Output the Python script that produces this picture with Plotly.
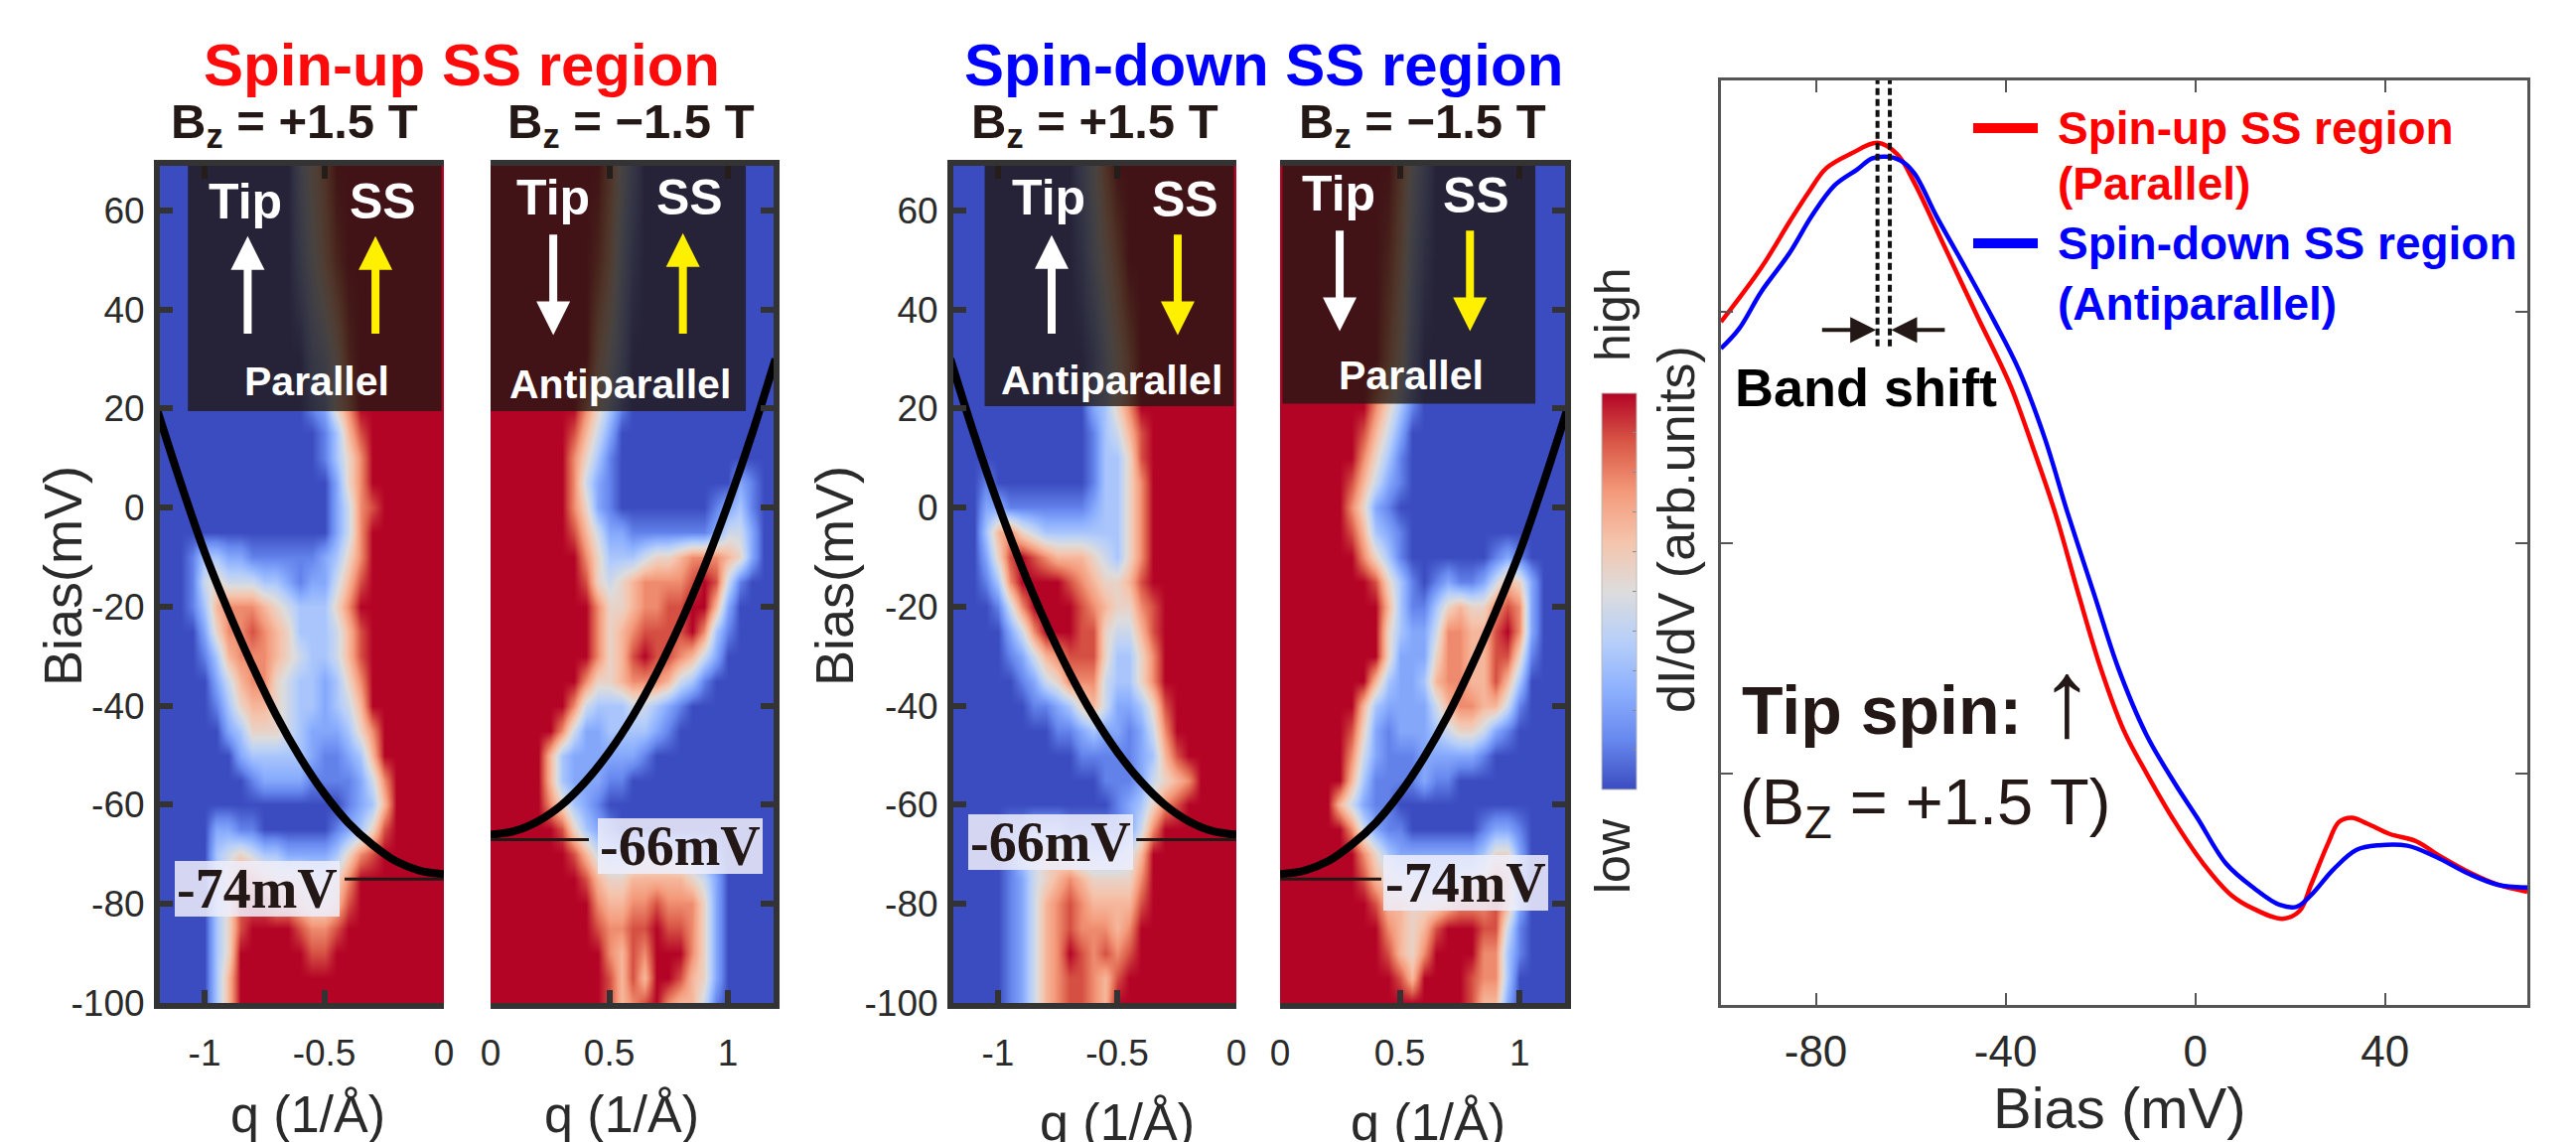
import plotly.graph_objects as go

W, H = 2594, 1150
SANS = "Liberation Sans"
SERIF = "Liberation Serif"
INK = "#231815"
AXIS = "#333333"

# ---- map data ----------------------------------------------------------
bias_rows = [70, 50, 30, 20, 15, 10, 5, 0, -5, -10, -15, -20, -25, -30, -35, -40, -45, -50,
             -55, -60, -65, -70, -75, -80, -85, -90, -95, -100]
q_neg = [-1.2, -1.15, -1.1, -1.05, -1.0, -0.95, -0.9, -0.85, -0.8, -0.75, -0.7, -0.65, -0.6,
         -0.55, -0.5, -0.45, -0.4, -0.35, -0.3, -0.25, -0.2, -0.15, -0.1, -0.05, 0.0]
q_pos = [0.0, 0.05, 0.1, 0.15, 0.2, 0.25, 0.3, 0.35, 0.4, 0.45, 0.5, 0.55, 0.6, 0.65, 0.7,
         0.75, 0.8, 0.85, 0.9, 0.95, 1.0, 1.05, 1.1, 1.15, 1.2]

map_up_plus = [
    "0000000000003579999999999", "0000000000002468999999999", "0000000000000235899999999",
    "0000000000000125799999999", "0000000000000013689999999", "0000000000000013579999999",
    "0000000000000002579999999", "0000000000000002478999999", "0000000000000002479999999",
    "0001332211111123579999999", "0001454443321224689999999", "0001367776543335799999999",
    "0000257787653334689999999", "0000136777654334689999999", "0000024677543323579999999",
    "0000013566543323469999999", "0000002355543222357999999", "0000000233333211236999999",
    "0000000012222111124799999", "0000000000000000123699999", "0000022110000001235899999",
    "0000034543322223578999999", "0000035776555445799999999", "0000035888776556899999999",
    "0000035899998778999999999", "0000035999999889999999999", "0000036999999999999999999",
    "0000036999999999999999999",
]
map_up_minus = [
    "9999999999742000000000000", "9999999998631000000000000", "9999999996420000000000000",
    "9999999975310000000000000", "9999999864200000000000000", "9999999753100000000000000",
    "9999999742100000000002100", "9999999752100000000123100", "9999999864221111111244200",
    "9999999975333455677765200", "9999999985456777789841000", "9999999997556778899620000",
    "9999999997567888897310000", "9999999997568988764200000", "9999999975567776431000000",
    "9999999743334432100000000", "9999997422333321000000000", "9999963222222100000000000",
    "9999963222110000000000000", "9999975321000000000000000", "9999998532100000000000000",
    "9999999864333444332100000", "9999999986556666654200000", "9999999997667787775200000",
    "9999999998778898875200000", "9999999999768799975200000", "9999999999868699865200000",
    "9999999999867897664100000",
]
map_down_plus = [
    "0000000000024799999999999", "0000000000013579999999999", "0000000000001357999999999",
    "0000000000002357999999999", "0000000000001346899999999", "0000000000001335899999999",
    "0001000000001335799999999", "0002211111112335799999999", "0003675433333335799999999",
    "0002589876665435799999999", "0001379999876556899999999", "0000147999987655789999999",
    "0000024799988544689999999", "0000012467888533579999999", "0000001245777433579999999",
    "0000000112356422358999999", "0000000001123221247999999", "0000000000011111236899999",
    "0000000000000111245679999", "0000000000000012357899999", "0000011222111112479999999",
    "0000013455433334699999999", "0000012456765555799999999", "0000012467876666899999999",
    "0000012467877767999999999", "0000012467987878999999999", "0000012467887689999999999",
    "0000012467887699999999999",
]
map_down_minus = [
    "9999999999742000000000000", "9999999998631000000000000", "9999999997520000000000000",
    "9999999975310000000000000", "9999999864200000000000000", "9999999753100000000000000",
    "9999998642100000000000000", "9999997521000000000000000", "9999998632100000000000000",
    "9999999753100000001210000", "9999999985310121124652000", "9999999996311356557872000",
    "9999999995322477668972000", "9999999995222577668851000", "9999999963223677668630000",
    "9999999632222467766410000", "9999998521222345542100000", "9999997421112222210000000",
    "9999996311112110000000000", "9999964211000000000000000", "9999997421100000012210000",
    "9999999753222222235520000", "9999999865443334457620000", "9999999986655567778620000",
    "9999999997656899988410000", "9999999998657999977310000", "9999999999869999877300000",
    "9999999999999999866200000",
]

# ---- parabolic band lines -----------------------------
band_q_neg = [-1.2, -1.1, -1.0, -0.9, -0.8, -0.7, -0.6, -0.5, -0.4, -0.3, -0.2, -0.1, 0.0]
band_q_pos = [0.0, 0.1, 0.2, 0.3, 0.4, 0.5, 0.6, 0.7, 0.8, 0.9, 1.0, 1.1, 1.2]
band_74_neg = [20, 5, -9, -21, -32, -42, -50.5, -57.7, -63.6, -68, -71.4, -73.3, -74]
band_66_pos = [-66, -65.3, -63.3, -60, -55.3, -49.3, -42, -33.3, -23.3, -12, 0.7, 14.7, 30]
band_66_neg = [30, 14.7, 0.7, -12, -23.3, -33.3, -42, -49.3, -55.3, -60, -63.3, -65.3, -66]
band_74_pos = [-74, -73.3, -71.4, -68, -63.6, -57.7, -50.5, -42, -32, -21, -9, 5, 20]

# ---- dI/dV spectra -------------------------------------------------------
up_bias = [-100, -91.5, -85.5, -81.4, -77.8, -72.4, -67, -62.8, -59.3, -53.3, -46.1, -39, -34.2,
           -29.4, -24.6, -19.8, -15, -10.3, -4.3, 1.7, 7.6, 12.4, 18.4, 22, 24.4, 28, 30.3, 33,
           36.3, 41.1, 46.5, 51.8, 57.8, 63.8, 70]
up_didv = [2.955, 3.19, 3.39, 3.52, 3.62, 3.685, 3.73, 3.68, 3.56, 3.30, 2.986, 2.68, 2.41, 2.12,
           1.775, 1.448, 1.184, 1.003, 0.792, 0.611, 0.475, 0.415, 0.373, 0.407, 0.52, 0.70, 0.792,
           0.81, 0.784, 0.739, 0.709, 0.641, 0.573, 0.52, 0.49]
down_bias = [-100, -96.2, -91.5, -85.5, -80.8, -76, -71.2, -68.2, -65.2, -62.2, -59.3, -54.5, -48.5,
             -42.5, -37.2, -31.8, -27, -21.3, -16.2, -10.3, -4.3, 0.5, 6.5, 12.4, 17.8, 21.4, 24.4,
             29.2, 34, 38.7, 44.7, 50.7, 57.8, 63.8, 70]
down_didv = [2.84, 2.925, 3.086, 3.255, 3.416, 3.547, 3.616, 3.662, 3.67, 3.654, 3.60, 3.41, 3.19,
             2.963, 2.748, 2.456, 2.134, 1.775, 1.455, 1.169, 0.958, 0.807, 0.611, 0.505, 0.433,
             0.425, 0.475, 0.588, 0.671, 0.691, 0.689, 0.641, 0.566, 0.52, 0.508]

# ---- tick labels and text ------------------------------------------------
bias_ticks = [-100, -80, -60, -40, -20, 0, 20, 40, 60]
bias_ticktext = ["-100", "-80", "-60", "-40", "-20", "0", "20", "40", "60"]
qneg_ticks = [-1, -0.5, 0]
qneg_ticktext = ["-1", "-0.5", "0"]
qpos_ticks = [0, 0.5, 1]
qpos_ticktext = ["0", "0.5", "1"]
spec_xticks = [-80, -40, 0, 40]
spec_xticktext = ["-80", "-40", "0", "40"]
spec_yticks = [1, 2, 3]

coolwarm = [[0.0, "#3b4cc0"], [0.125, "#6788ee"], [0.25, "#8db0fe"], [0.375, "#b7cff9"],
            [0.5, "#dddcdc"], [0.625, "#f5c4ac"], [0.75, "#f49a7b"], [0.875, "#d95847"],
            [1.0, "#b40426"]]


def decode(rows):
    assert all(len(r) == 25 for r in rows), [len(r) for r in rows]
    return [[int(c) for c in r] for r in rows]


fig = go.Figure()
panels = [
    ("", q_neg, map_up_plus, band_q_neg, band_74_neg),
    ("2", q_pos, map_up_minus, band_q_pos, band_66_pos),
    ("3", q_neg, map_down_plus, band_q_neg, band_66_neg),
    ("4", q_pos, map_down_minus, band_q_pos, band_74_pos),
]
for i, (s, qs, rows, bq, be) in enumerate(panels):
    hm = dict(x=qs, y=bias_rows, z=decode(rows), zmin=0, zmax=9, zsmooth="best", colorscale=coolwarm,
              xaxis="x" + s, yaxis="y" + s, hoverinfo="skip", showscale=(i == 0))
    if i == 0:
        hm["colorbar"] = dict(x=1613 / W, xanchor="left", xpad=0, y=1 - 795 / H, yanchor="bottom", ypad=0,
                              len=399, lenmode="pixels", thickness=35, thicknessmode="pixels",
                              tickvals=[0.9, 1.8, 2.7, 3.6, 4.5, 5.4, 6.3, 7.2, 8.1], ticks="inside",
                              ticklen=4, tickwidth=1, tickcolor="#888888", showticklabels=False,
                              outlinecolor="#bbbbbb", outlinewidth=1)
    fig.add_trace(go.Heatmap(**hm))
    fig.add_trace(go.Scatter(x=bq, y=be, mode="lines", line=dict(color="#000000", width=8, shape="spline"),
                             xaxis="x" + s, yaxis="y" + s, showlegend=False, hoverinfo="skip", cliponaxis=True))

fig.add_trace(go.Scatter(x=up_bias, y=up_didv, mode="lines", name="Spin-up SS region (Parallel)",
                         line=dict(color="#ff0000", width=4.5, shape="spline"), xaxis="x5", yaxis="y5",
                         showlegend=False))
fig.add_trace(go.Scatter(x=down_bias, y=down_didv, mode="lines", name="Spin-down SS region (Antiparallel)",
                         line=dict(color="#0000ff", width=4.5, shape="spline"), xaxis="x5", yaxis="y5",
                         showlegend=False))


def px_x(p):
    return p / W


def px_y(p):
    return 1 - p / H


tick_font = dict(family=SANS, size=37, color="#2a2a2a")
common_x = dict(showline=True, linecolor=AXIS, linewidth=6, mirror="ticks", ticks="inside", ticklen=13,
                tickwidth=6, tickcolor=AXIS, showgrid=False, zeroline=False, tickfont=tick_font,
                tickmode="array", ticklabelstandoff=13)
common_y = dict(showline=True, linecolor=AXIS, linewidth=6, ticks="inside", ticklen=13, tickwidth=6,
                tickcolor=AXIS, showgrid=False, zeroline=False, tickfont=tick_font, range=[-100, 69],
                tickmode="array", tickvals=bias_ticks, ticktext=bias_ticktext, ticklabelstandoff=2,
                domain=[px_y(1010), px_y(167)])
layout = dict(width=W, height=H, autosize=False, margin=dict(l=0, r=0, t=0, b=0, pad=0, autoexpand=False),
              paper_bgcolor="#ffffff", plot_bgcolor="#ffffff", showlegend=False)
layout["xaxis"] = dict(common_x, domain=[px_x(161), px_x(447)], range=[-1.187, 0], anchor="y",
                       tickvals=qneg_ticks, ticktext=qneg_ticktext)
layout["yaxis"] = dict(common_y, anchor="x", side="left")
layout["xaxis2"] = dict(common_x, domain=[px_x(494), px_x(779)], range=[0, 1.192], anchor="y2",
                        tickvals=qpos_ticks, ticktext=qpos_ticktext)
layout["yaxis2"] = dict(common_y, anchor="x2", side="right", showticklabels=False)
layout["xaxis3"] = dict(common_x, domain=[px_x(960), px_x(1245)], range=[-1.1875, 0], anchor="y3",
                        tickvals=qneg_ticks, ticktext=qneg_ticktext)
layout["yaxis3"] = dict(common_y, anchor="x3", side="left")
layout["xaxis4"] = dict(common_x, domain=[px_x(1289), px_x(1576)], range=[0, 1.19], anchor="y4",
                        tickvals=qpos_ticks, ticktext=qpos_ticktext)
layout["yaxis4"] = dict(common_y, anchor="x4", side="right", showticklabels=False)
spec_tick_font = dict(family=SANS, size=44, color="#2a2a2a")
layout["xaxis5"] = dict(showline=True, linecolor="#555555", linewidth=3, mirror="ticks", ticks="inside",
                        ticklen=12, tickwidth=2, tickcolor="#555555", showgrid=False, zeroline=False,
                        domain=[px_x(1733), px_x(2545)], range=[-100, 70], anchor="y5", tickmode="array",
                        tickvals=spec_xticks, ticktext=spec_xticktext, tickfont=spec_tick_font,
                        ticklabelstandoff=6)
layout["yaxis5"] = dict(showline=True, linecolor="#555555", linewidth=3, mirror="ticks", ticks="inside",
                        ticklen=12, tickwidth=2, tickcolor="#555555", showgrid=False, zeroline=False,
                        domain=[px_y(1012), px_y(81)], range=[0, 4], anchor="x5", tickmode="array",
                        tickvals=spec_yticks, showticklabels=False)

annotations = []
shapes = []


def text(x, y, t, size, color=INK, bold=False, family=SANS, angle=0):
    t2 = f"<b>{t}</b>" if bold else t
    annotations.append(dict(xref="paper", yref="paper", x=px_x(x), y=px_y(y), text=t2, showarrow=False,
                            xanchor="center", yanchor="middle", textangle=angle,
                            font=dict(family=family, size=size, color=color)))


def arrow(xr, yr, x, y_head, y_tail, color):
    annotations.append(dict(xref=xr, yref=yr, axref=xr, ayref=yr, x=x, y=y_head, ax=x, ay=y_tail, text="",
                            showarrow=True, arrowhead=2, arrowsize=0.85, arrowwidth=8, arrowcolor=color,
                            standoff=0, startstandoff=0))


# titles
text(465, 65, "Spin-up SS region", 60, "#ff0a0a", True)
text(1272, 65, "Spin-down SS region", 60, "#0000ff", True)
for cx, label in [(296, "+1.5 T"), (635, "−1.5 T"), (1102, "+1.5 T"), (1433, "−1.5 T")]:
    text(cx, 125, f"B<sub>z</sub> = {label}", 49, INK, True)

# axis labels
text(63, 580, "Bias(mV)", 54, "#2a2a2a", angle=-90)
text(840, 580, "Bias(mV)", 54, "#2a2a2a", angle=-90)
for cx, cy in [(310, 1122), (626, 1122), (1125, 1130), (1438, 1130)]:
    text(cx, cy, "q (1/Å)", 52, "#2a2a2a")
text(2134, 1115, "Bias (mV)", 58, "#2a2a2a")
text(1688, 533, "dI/dV (arb.units)", 52, "#2a2a2a", angle=-90)
text(1624, 316, "high", 50, "#2a2a2a", angle=-90)
text(1624, 862, "low", 50, "#2a2a2a", angle=-90)

# dark overlay boxes
box = "rgba(32,23,18,0.78)"
for xr, yr, x0, x1, y0 in [("x", "y", -1.07, -0.01, 19.5), ("x2", "y2", 0.0, 1.075, 19.5),
                           ("x3", "y3", -1.056, -0.01, 20.5), ("x4", "y4", 0.01, 1.066, 21)]:
    shapes.append(dict(type="rect", xref=xr, yref=yr, x0=x0, x1=x1, y0=y0, y1=69, fillcolor=box,
                       line=dict(width=0), layer="above"))

# box texts
white = "#ffffff"
for cx, cy, t, size in [(247, 203, "Tip", 50), (385, 203, "SS", 50), (319, 384, "Parallel", 41),
                        (557, 199, "Tip", 50), (694, 199, "SS", 50), (624, 387, "Antiparallel", 41),
                        (1056, 199, "Tip", 50), (1193, 201, "SS", 50), (1119, 383, "Antiparallel", 41),
                        (1348, 195, "Tip", 50), (1486, 197, "SS", 50), (1421, 378, "Parallel", 41)]:
    text(cx, cy, t, size, white, True)

yellow = "#fff000"
arrow("x", "y", -0.82, 54.8, 34.8, white)
arrow("x", "y", -0.286, 54.8, 34.8, yellow)
arrow("x2", "y2", 0.264, 34.8, 55.4, white)
arrow("x2", "y2", 0.81, 55.4, 34.8, yellow)
arrow("x3", "y3", -0.775, 55.0, 34.8, white)
arrow("x3", "y3", -0.246, 34.8, 55.4, yellow)
arrow("x4", "y4", 0.249, 35.6, 56.2, white)
arrow("x4", "y4", 0.793, 35.6, 56.2, yellow)

# energy labels
label_fill = "rgba(238,238,250,0.86)"
for x0, x1, y0, y1, t in [(176, 342, 867, 923, "-74mV"), (602, 768, 824, 880, "-66mV"),
                          (975, 1141, 820, 876, "-66mV"), (1393, 1559, 861, 917, "-74mV")]:
    shapes.append(dict(type="rect", xref="paper", yref="paper", x0=px_x(x0), x1=px_x(x1), y0=px_y(y1),
                       y1=px_y(y0), fillcolor=label_fill, line=dict(width=0), layer="above"))
    text((x0 + x1) / 2, (y0 + y1) / 2, t, 56, INK, True, SERIF)
for xr, yr, x0, x1, yv in [("x", "y", -0.415, 0, -75), ("x2", "y2", 0, 0.414, -67),
                           ("x3", "y3", -0.42, 0, -67), ("x4", "y4", 0, 0.423, -75)]:
    shapes.append(dict(type="line", xref=xr, yref=yr, x0=x0, x1=x1, y0=yv, y1=yv,
                       line=dict(color=INK, width=3), layer="above"))

# spectrum decorations
for xv in [-67, -64.4]:
    shapes.append(dict(type="line", xref="x5", yref="y5", x0=xv, x1=xv, y0=2.85, y1=4,
                       line=dict(color="#111111", width=4, dash="7px,4px"), layer="above"))
shapes.append(dict(type="line", xref="paper", yref="paper", x0=px_x(1987), x1=px_x(2052), y0=px_y(129),
                   y1=px_y(129), line=dict(color="#ff0000", width=10), layer="above"))
shapes.append(dict(type="line", xref="paper", yref="paper", x0=px_x(1987), x1=px_x(2052), y0=px_y(245),
                   y1=px_y(245), line=dict(color="#0000ff", width=10), layer="above"))
for x, y, t, c in [(2070, 129, "Spin-up SS region", "#ff0000"), (2070, 185, "(Parallel)", "#ff0000"),
                   (2070, 245, "Spin-down SS region", "#0000ff"), (2070, 306, "(Antiparallel)", "#0000ff")]:
    annotations.append(dict(xref="paper", yref="paper", x=px_x(x), y=px_y(y), text=f"<b>{t}</b>", showarrow=False,
                            xanchor="left", yanchor="middle", font=dict(family=SANS, size=46, color=c)))
for head, tail in [(-67.3, -79), (-64.1, -52.5)]:
    annotations.append(dict(xref="x5", yref="y5", axref="x5", ayref="y5", x=head, y=2.92, ax=tail, ay=2.92, text="",
                            showarrow=True, arrowhead=2, arrowsize=1.3, arrowwidth=4, arrowcolor=INK, standoff=0))
text(1879, 390, "Band shift", 54, "#000000", True)
text(1895, 715, "Tip spin:", 68, INK, True)
text(2081, 702, "↑", 110, INK)
text(1938, 812, "(B<sub>Z</sub> = +1.5 T)", 65, INK)

layout["annotations"] = annotations
layout["shapes"] = shapes
fig.update_layout(**layout)
fig.write_html("out.html", config={"displayModeBar": False},
               post_script="document.body.style.margin='0';document.body.style.overflow='hidden';")
